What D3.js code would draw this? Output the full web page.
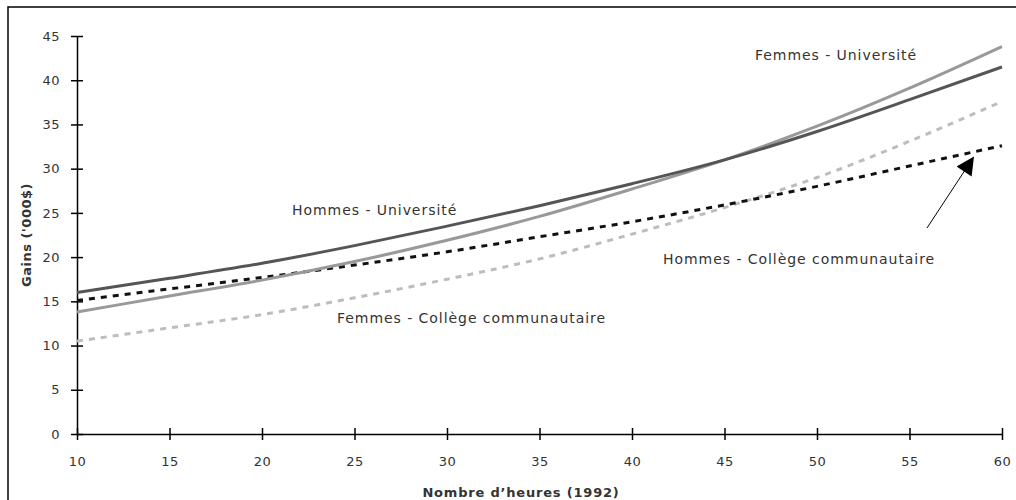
<!DOCTYPE html>
<head>
	<meta charset="utf-8">
	<script src="https://d3js.org/d3.v7.min.js"></script>
	<style>
		body { margin: 0; background: #fff; }
		text { font-family: "DejaVu Sans", sans-serif; fill: #333; }
	</style>
</head>
<body>
	<svg id="chart" width="1016" height="500"></svg>
	<script>

	// Data
	var heures = [10, 15, 20, 25, 30, 35, 40, 45, 50, 55, 60];
	var hommesUniv = [16.0, 17.6, 19.3, 21.3, 23.5, 25.8, 28.3, 31.0, 34.2, 37.8, 41.5];
	var femmesUniv = [13.8, 15.6, 17.4, 19.5, 21.9, 24.6, 27.7, 31.0, 34.8, 39.1, 43.8];
	var hommesColl = [15.1, 16.4, 17.7, 19.1, 20.6, 22.3, 24.0, 25.9, 28.0, 30.3, 32.6];
	var femmesColl = [10.5, 12.0, 13.5, 15.4, 17.5, 19.8, 22.6, 25.6, 29.0, 33.1, 37.6];
	var yTicks = [0, 5, 10, 15, 20, 25, 30, 35, 40, 45];
	var xTicks = [10, 15, 20, 25, 30, 35, 40, 45, 50, 55, 60];

	var series = [
		{ name: "Femmes - Collège communautaire", values: femmesColl, color: "#bdbdbd", dash: "6,6", lx: 337, ly: 323 },
		{ name: "Hommes - Collège communautaire", values: hommesColl, color: "#111", dash: "6,6", lx: 663, ly: 264 },
		{ name: "Femmes - Université", values: femmesUniv, color: "#999", dash: null, lx: 755, ly: 60 },
		{ name: "Hommes - Université", values: hommesUniv, color: "#555", dash: null, lx: 292, ly: 215 }
	];

	var svg = d3.select("#chart");

	// frame
	svg.append("rect")
		.attr("x", 8).attr("y", 7)
		.attr("width", 1030).attr("height", 520)
		.attr("fill", "none").attr("stroke", "#000").attr("stroke-width", 1.5);

	var x = d3.scaleLinear().domain([10, 60]).range([77, 1002]);
	var y = d3.scaleLinear().domain([0, 45]).range([434, 36]);

	// axes
	var xAxis = svg.append("g")
		.attr("transform", "translate(0," + y(0) + ")")
		.call(d3.axisBottom(x).tickValues(xTicks).tickSize(6).tickPadding(17).tickSizeOuter(0));
	xAxis.selectAll(".tick line").attr("y1", -6);
	var yAxis = svg.append("g")
		.attr("transform", "translate(" + x(10) + ",0)")
		.call(d3.axisLeft(y).tickValues(yTicks).tickSize(6).tickPadding(11).tickSizeOuter(0));
	yAxis.selectAll(".tick line").attr("x1", 6);

	svg.selectAll(".domain").attr("stroke", "#000").attr("stroke-width", 1.5);
	svg.selectAll(".tick line").attr("stroke", "#000").attr("stroke-width", 1.5);
	svg.selectAll(".tick text")
		.style("font-family", "'DejaVu Sans', sans-serif")
		.style("font-size", "13px").style("letter-spacing", "0.5px").attr("fill", "#333");

	// axis titles
	svg.append("text")
		.attr("x", 521).attr("y", 497)
		.attr("text-anchor", "middle")
		.style("font-size", "13px").style("font-weight", "bold").style("letter-spacing", "0.8px")
		.attr("fill", "#000")
		.text("Nombre d’heures (1992)");
	svg.append("text")
		.attr("transform", "translate(31," + ((y(0) + y(45)) / 2) + ") rotate(-90)")
		.attr("text-anchor", "middle")
		.style("font-size", "13px").style("font-weight", "bold").style("letter-spacing", "0.5px")
		.attr("fill", "#000")
		.text("Gains ('000$)");

	// lines
	var line = d3.line()
		.x(function(d, i) { return x(heures[i]); })
		.y(function(d) { return y(d); })
		.curve(d3.curveMonotoneX);

	svg.append("g").selectAll("path")
		.data(series)
		.enter()
		.append("path")
		.attr("d", function(d) { return line(d.values); })
		.attr("fill", "none")
		.attr("stroke", function(d) { return d.color; })
		.attr("stroke-width", 3)
		.attr("stroke-dasharray", function(d) { return d.dash; });

	// labels
	svg.append("g").selectAll("text")
		.data(series)
		.enter()
		.append("text")
		.attr("x", function(d) { return d.lx; })
		.attr("y", function(d) { return d.ly; })
		.style("font-size", "14px")
		.style("letter-spacing", "0.95px")
		.attr("fill", "#333")
		.text(function(d) { return d.name; });

	// arrow
	svg.append("defs").append("marker")
		.attr("id", "head")
		.attr("viewBox", "0 0 10 10")
		.attr("refX", 9).attr("refY", 5)
		.attr("markerWidth", 22).attr("markerHeight", 18)
		.attr("markerUnits", "userSpaceOnUse")
		.attr("orient", "auto")
		.append("path").attr("d", "M0,0 L10,5 L0,10 Z").attr("fill", "#000");
	svg.append("line")
		.attr("x1", 927).attr("y1", 228)
		.attr("x2", 973).attr("y2", 158)
		.attr("stroke", "#000").attr("stroke-width", 1)
		.attr("marker-end", "url(#head)");

</script>
</body>
</html>
